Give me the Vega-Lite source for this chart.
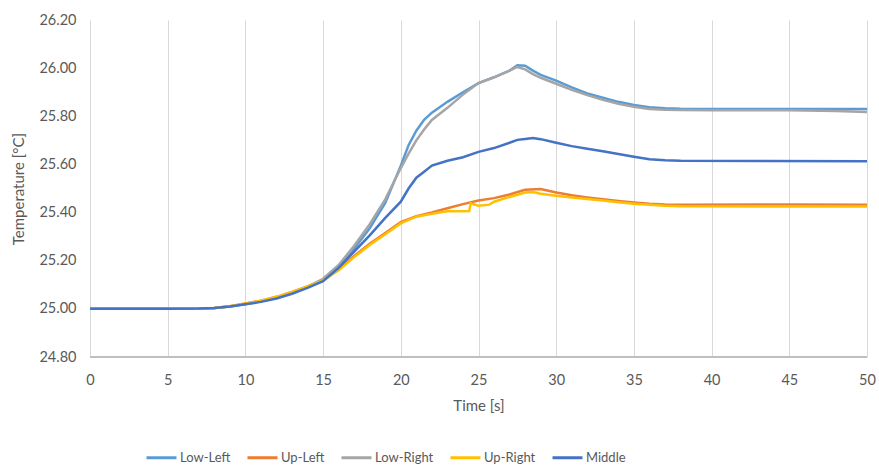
{
  "$schema": "https://vega.github.io/schema/vega-lite/v6.json",
  "width": 777,
  "height": 337,
  "autosize": "none",
  "padding": {"left": 90, "top": 20, "right": 12, "bottom": 111},
  "background": "white",
  "config": {
    "font": "Lato",
    "view": {"stroke": null},
    "axis": {"labelColor": "#595959", "titleColor": "#595959", "labelFontSize": 14.5, "titleFontSize": 15, "titleFontWeight": "normal", "gridColor": "#D9D9D9", "gridWidth": 1, "ticks": false, "domain": false, "labelFlush": false, "labelOverlap": false}
  },
  "datasets": {
    "d": [
      {"t":0,"s":"Low-Left","v":25.0},{"t":5,"s":"Low-Left","v":25.0},{"t":7,"s":"Low-Left","v":25.001},{"t":8,"s":"Low-Left","v":25.004},{"t":9,"s":"Low-Left","v":25.01},{"t":10,"s":"Low-Left","v":25.02},{"t":11,"s":"Low-Left","v":25.031},{"t":12,"s":"Low-Left","v":25.046},{"t":13,"s":"Low-Left","v":25.066},{"t":14,"s":"Low-Left","v":25.09},{"t":15,"s":"Low-Left","v":25.12},{"t":16,"s":"Low-Left","v":25.175},{"t":17,"s":"Low-Left","v":25.25},{"t":18,"s":"Low-Left","v":25.335},{"t":19,"s":"Low-Left","v":25.44},{"t":20,"s":"Low-Left","v":25.595},{"t":20.5,"s":"Low-Left","v":25.68},{"t":21,"s":"Low-Left","v":25.74},{"t":21.5,"s":"Low-Left","v":25.785},{"t":22,"s":"Low-Left","v":25.815},{"t":23,"s":"Low-Left","v":25.86},{"t":24,"s":"Low-Left","v":25.9},{"t":25,"s":"Low-Left","v":25.938},{"t":26,"s":"Low-Left","v":25.962},{"t":27,"s":"Low-Left","v":25.99},{"t":27.5,"s":"Low-Left","v":26.012},{"t":28,"s":"Low-Left","v":26.01},{"t":28.5,"s":"Low-Left","v":25.99},{"t":29,"s":"Low-Left","v":25.972},{"t":30,"s":"Low-Left","v":25.948},{"t":31,"s":"Low-Left","v":25.92},{"t":32,"s":"Low-Left","v":25.895},{"t":33,"s":"Low-Left","v":25.877},{"t":34,"s":"Low-Left","v":25.86},{"t":35,"s":"Low-Left","v":25.847},{"t":36,"s":"Low-Left","v":25.838},{"t":37,"s":"Low-Left","v":25.833},{"t":38,"s":"Low-Left","v":25.831},{"t":40,"s":"Low-Left","v":25.83},{"t":45,"s":"Low-Left","v":25.83},{"t":50,"s":"Low-Left","v":25.83},

      {"t":0,"s":"Up-Left","v":25.0},{"t":5,"s":"Up-Left","v":25.0},{"t":7,"s":"Up-Left","v":25.001},{"t":8,"s":"Up-Left","v":25.004},{"t":9,"s":"Up-Left","v":25.011},{"t":10,"s":"Up-Left","v":25.022},{"t":11,"s":"Up-Left","v":25.034},{"t":12,"s":"Up-Left","v":25.05},{"t":13,"s":"Up-Left","v":25.07},{"t":14,"s":"Up-Left","v":25.093},{"t":15,"s":"Up-Left","v":25.12},{"t":16,"s":"Up-Left","v":25.165},{"t":17,"s":"Up-Left","v":25.22},{"t":18,"s":"Up-Left","v":25.27},{"t":19,"s":"Up-Left","v":25.315},{"t":20,"s":"Up-Left","v":25.36},{"t":21,"s":"Up-Left","v":25.385},{"t":22,"s":"Up-Left","v":25.4},{"t":23,"s":"Up-Left","v":25.418},{"t":24,"s":"Up-Left","v":25.435},{"t":25,"s":"Up-Left","v":25.45},{"t":26,"s":"Up-Left","v":25.46},{"t":27,"s":"Up-Left","v":25.475},{"t":28,"s":"Up-Left","v":25.495},{"t":29,"s":"Up-Left","v":25.498},{"t":30,"s":"Up-Left","v":25.483},{"t":31,"s":"Up-Left","v":25.472},{"t":32,"s":"Up-Left","v":25.463},{"t":33,"s":"Up-Left","v":25.455},{"t":34,"s":"Up-Left","v":25.448},{"t":35,"s":"Up-Left","v":25.442},{"t":36,"s":"Up-Left","v":25.437},{"t":37,"s":"Up-Left","v":25.434},{"t":38,"s":"Up-Left","v":25.433},{"t":45,"s":"Up-Left","v":25.434},{"t":50,"s":"Up-Left","v":25.433},

      {"t":0,"s":"Low-Right","v":25.0},{"t":5,"s":"Low-Right","v":25.0},{"t":7,"s":"Low-Right","v":25.001},{"t":8,"s":"Low-Right","v":25.004},{"t":9,"s":"Low-Right","v":25.01},{"t":10,"s":"Low-Right","v":25.02},{"t":11,"s":"Low-Right","v":25.031},{"t":12,"s":"Low-Right","v":25.046},{"t":13,"s":"Low-Right","v":25.067},{"t":14,"s":"Low-Right","v":25.092},{"t":15,"s":"Low-Right","v":25.125},{"t":16,"s":"Low-Right","v":25.182},{"t":17,"s":"Low-Right","v":25.262},{"t":18,"s":"Low-Right","v":25.352},{"t":19,"s":"Low-Right","v":25.455},{"t":20,"s":"Low-Right","v":25.585},{"t":20.5,"s":"Low-Right","v":25.645},{"t":21,"s":"Low-Right","v":25.7},{"t":21.5,"s":"Low-Right","v":25.745},{"t":22,"s":"Low-Right","v":25.785},{"t":23,"s":"Low-Right","v":25.835},{"t":24,"s":"Low-Right","v":25.89},{"t":25,"s":"Low-Right","v":25.938},{"t":26,"s":"Low-Right","v":25.962},{"t":27,"s":"Low-Right","v":25.99},{"t":27.5,"s":"Low-Right","v":26.005},{"t":28,"s":"Low-Right","v":25.995},{"t":28.5,"s":"Low-Right","v":25.975},{"t":29,"s":"Low-Right","v":25.96},{"t":30,"s":"Low-Right","v":25.935},{"t":31,"s":"Low-Right","v":25.91},{"t":32,"s":"Low-Right","v":25.888},{"t":33,"s":"Low-Right","v":25.868},{"t":34,"s":"Low-Right","v":25.852},{"t":35,"s":"Low-Right","v":25.84},{"t":36,"s":"Low-Right","v":25.83},{"t":37,"s":"Low-Right","v":25.827},{"t":38,"s":"Low-Right","v":25.826},{"t":40,"s":"Low-Right","v":25.825},{"t":45,"s":"Low-Right","v":25.825},{"t":48,"s":"Low-Right","v":25.822},{"t":50,"s":"Low-Right","v":25.818},

      {"t":0,"s":"Up-Right","v":25.0},{"t":5,"s":"Up-Right","v":25.0},{"t":7,"s":"Up-Right","v":25.001},{"t":8,"s":"Up-Right","v":25.004},{"t":9,"s":"Up-Right","v":25.011},{"t":10,"s":"Up-Right","v":25.022},{"t":11,"s":"Up-Right","v":25.034},{"t":12,"s":"Up-Right","v":25.05},{"t":13,"s":"Up-Right","v":25.07},{"t":14,"s":"Up-Right","v":25.093},{"t":15,"s":"Up-Right","v":25.118},{"t":16,"s":"Up-Right","v":25.16},{"t":17,"s":"Up-Right","v":25.215},{"t":18,"s":"Up-Right","v":25.265},{"t":19,"s":"Up-Right","v":25.31},{"t":20,"s":"Up-Right","v":25.355},{"t":21,"s":"Up-Right","v":25.383},{"t":22,"s":"Up-Right","v":25.395},{"t":23,"s":"Up-Right","v":25.405},{"t":24,"s":"Up-Right","v":25.405},{"t":24.4,"s":"Up-Right","v":25.406},{"t":24.5,"s":"Up-Right","v":25.438},{"t":25,"s":"Up-Right","v":25.428},{"t":25.7,"s":"Up-Right","v":25.433},{"t":26,"s":"Up-Right","v":25.445},{"t":27,"s":"Up-Right","v":25.465},{"t":28,"s":"Up-Right","v":25.483},{"t":28.5,"s":"Up-Right","v":25.485},{"t":29,"s":"Up-Right","v":25.478},{"t":30,"s":"Up-Right","v":25.47},{"t":31,"s":"Up-Right","v":25.463},{"t":32,"s":"Up-Right","v":25.456},{"t":33,"s":"Up-Right","v":25.45},{"t":34,"s":"Up-Right","v":25.443},{"t":35,"s":"Up-Right","v":25.437},{"t":36,"s":"Up-Right","v":25.432},{"t":37,"s":"Up-Right","v":25.428},{"t":38,"s":"Up-Right","v":25.426},{"t":50,"s":"Up-Right","v":25.425},

      {"t":0,"s":"Middle","v":25.0},{"t":5,"s":"Middle","v":25.0},{"t":7,"s":"Middle","v":25.001},{"t":8,"s":"Middle","v":25.004},{"t":9,"s":"Middle","v":25.01},{"t":10,"s":"Middle","v":25.019},{"t":11,"s":"Middle","v":25.029},{"t":12,"s":"Middle","v":25.043},{"t":13,"s":"Middle","v":25.063},{"t":14,"s":"Middle","v":25.087},{"t":15,"s":"Middle","v":25.115},{"t":16,"s":"Middle","v":25.17},{"t":17,"s":"Middle","v":25.238},{"t":18,"s":"Middle","v":25.305},{"t":19,"s":"Middle","v":25.378},{"t":20,"s":"Middle","v":25.445},{"t":20.5,"s":"Middle","v":25.5},{"t":21,"s":"Middle","v":25.545},{"t":21.5,"s":"Middle","v":25.57},{"t":22,"s":"Middle","v":25.595},{"t":23,"s":"Middle","v":25.615},{"t":24,"s":"Middle","v":25.63},{"t":25,"s":"Middle","v":25.652},{"t":26,"s":"Middle","v":25.668},{"t":27,"s":"Middle","v":25.69},{"t":27.5,"s":"Middle","v":25.702},{"t":28,"s":"Middle","v":25.706},{"t":28.5,"s":"Middle","v":25.71},{"t":29,"s":"Middle","v":25.705},{"t":30,"s":"Middle","v":25.69},{"t":31,"s":"Middle","v":25.676},{"t":32,"s":"Middle","v":25.665},{"t":33,"s":"Middle","v":25.655},{"t":34,"s":"Middle","v":25.643},{"t":35,"s":"Middle","v":25.632},{"t":36,"s":"Middle","v":25.622},{"t":37,"s":"Middle","v":25.617},{"t":38,"s":"Middle","v":25.615},{"t":50,"s":"Middle","v":25.613}
    ]
  },
  "data": {"name": "d"},
  "layer": [
    {
      "mark": {"type": "rule", "color": "#BFBFBF", "strokeWidth": 1},
      "encoding": {"y": {"datum": 24.8}}
    },
    {
      "mark": {"type": "line", "strokeWidth": 2.5, "interpolate": "linear"},
      "encoding": {
        "x": {"field": "t", "type": "quantitative", "title": "Time [s]",
              "scale": {"domain": [0, 50], "nice": false},
              "axis": {"values": [0,5,10,15,20,25,30,35,40,45,50], "labelPadding": 16, "titlePadding": 12}},
        "y": {"field": "v", "type": "quantitative", "title": "Temperature [°C]",
              "scale": {"domain": [24.8, 26.2], "nice": false, "zero": false},
              "axis": {"values": [24.8,25.0,25.2,25.4,25.6,25.8,26.0,26.2], "format": ".2f", "labelPadding": 14, "titlePadding": 12}},
        "color": {"field": "s", "type": "nominal",
                  "scale": {"domain": ["Low-Left","Up-Left","Low-Right","Up-Right","Middle"],
                            "range": ["#5B9BD5","#ED7D31","#A5A5A5","#FFC000","#4472C4"]},
                  "legend": {"title": null, "orient": "none", "direction": "horizontal", "legendX": 55, "legendY": 421,
                             "symbolType": "stroke", "symbolSize": 900, "symbolStrokeWidth": 3,
                             "labelFontSize": 13, "labelColor": "#595959", "labelOffset": 2, "columnPadding": 10}}
      }
    }
  ]
}
